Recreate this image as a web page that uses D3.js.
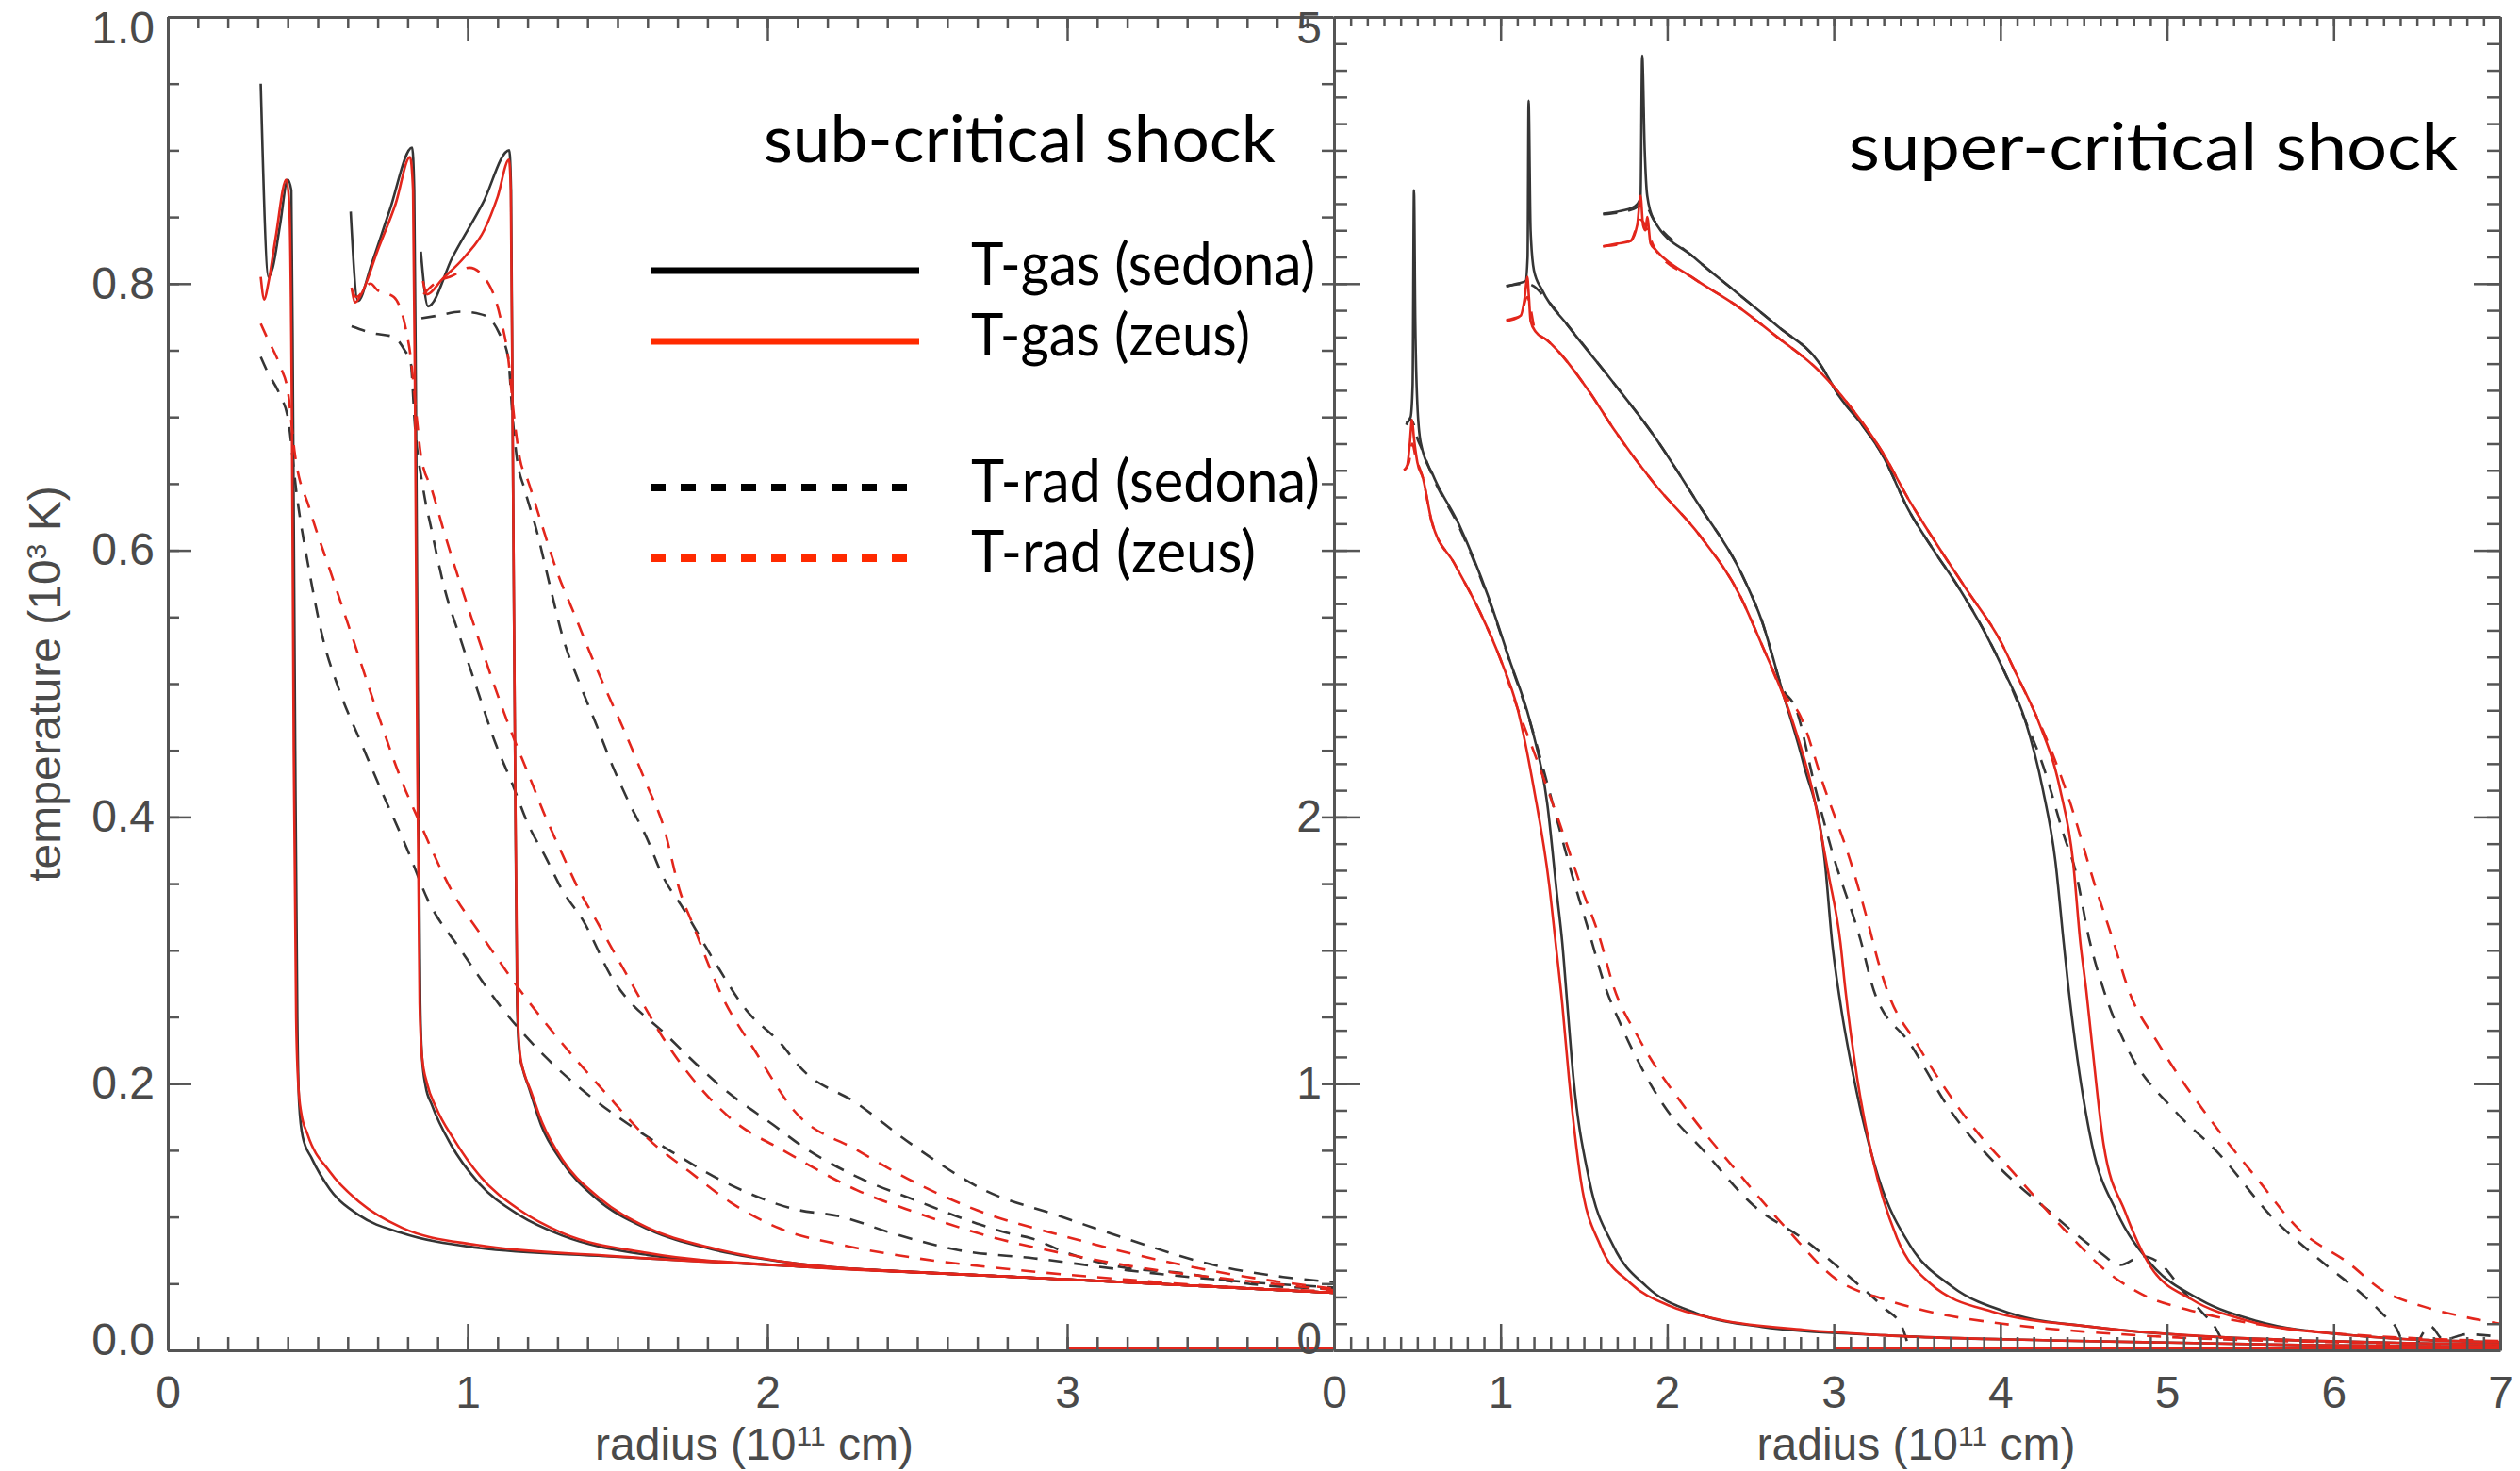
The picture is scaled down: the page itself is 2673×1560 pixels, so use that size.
<!DOCTYPE html>
<html><head><meta charset="utf-8">
<script src="https://cdn.jsdelivr.net/npm/d3@7"></script>
<style>html,body{margin:0;padding:0;background:#fff;overflow:hidden}</style>
</head><body><svg id="chart" width="2673" height="1560"></svg>
<script>
// ---------------- DATA ----------------
// tick labels
const subXTickValues = [0, 1, 2, 3];
const subXTickLabels = ["0", "1", "2", "3"];
const subYTickValues = [0, 0.2, 0.4, 0.6, 0.8, 1.0];
const subYTickLabels = ["0.0", "0.2", "0.4", "0.6", "0.8", "1.0"];
const supXTickValues = [0, 1, 2, 3, 4, 5, 6, 7];
const supXTickLabels = ["0", "1", "2", "3", "4", "5", "6", "7"];
const supYTickValues = [0, 1, 2, 3, 4, 5];
const supYTickLabels = ["0", "1", "2", "", "", "5"];

const panelTitles = ["sub-critical shock", "super-critical shock"];
const xTitle = ["radius (10", "11", " cm)"];
const yTitle = ["temperature (10", "3", " K)"];
const legendLabels = ["T-gas (sedona)", "T-gas (zeus)", "T-rad (sedona)", "T-rad (zeus)"];

// ---- sub-critical shock: [radius (1e11 cm), temperature (1e3 K)]
const subGasSedona1 = [[0.31,0.95],[0.336,0.805],[0.35,0.812],[0.375,0.845],[0.40,0.878],[0.412,0.87],[0.418,0.70],[0.425,0.45],[0.432,0.25],[0.438,0.185],[0.45,0.16],[0.48,0.144],[0.54,0.121],[0.64,0.101],[0.78,0.088],[1.03,0.077],[1.46,0.0705],[2.1,0.063],[2.64,0.057],[3.2,0.051],[3.9,0.043]];
const subGasZeus1 = [[0.31,0.805],[0.322,0.788],[0.335,0.80],[0.36,0.835],[0.395,0.878],[0.405,0.86],[0.414,0.70],[0.42,0.45],[0.428,0.25],[0.435,0.20],[0.445,0.178],[0.466,0.162],[0.54,0.134],[0.64,0.111],[0.78,0.092],[1.03,0.079],[1.46,0.071],[2.1,0.063],[2.64,0.057],[3.2,0.051],[3.9,0.043]];
const subGasSedona2 = [[0.61,0.854],[0.634,0.787],[0.68,0.815],[0.74,0.855],[0.815,0.902],[0.822,0.87],[0.828,0.70],[0.835,0.45],[0.842,0.26],[0.848,0.22],[0.86,0.198],[0.881,0.184],[0.945,0.154],[1.035,0.126],[1.175,0.101],[1.316,0.086],[1.60,0.0715],[2.1,0.063],[2.64,0.057],[3.2,0.051],[3.9,0.043]];
const subGasZeus2 = [[0.613,0.797],[0.625,0.786],[0.645,0.792],[0.70,0.825],[0.76,0.86],[0.808,0.895],[0.818,0.87],[0.825,0.70],[0.832,0.45],[0.84,0.26],[0.848,0.22],[0.865,0.20],[0.895,0.182],[0.955,0.158],[1.04,0.131],[1.175,0.105],[1.316,0.088],[1.60,0.073],[2.1,0.063],[2.64,0.057],[3.2,0.051],[3.9,0.043]];
const subGasSedona3 = [[0.844,0.824],[0.868,0.783],[0.95,0.82],[1.05,0.86],[1.139,0.90],[1.145,0.87],[1.15,0.70],[1.158,0.45],[1.165,0.26],[1.172,0.225],[1.185,0.21],[1.203,0.198],[1.245,0.169],[1.316,0.141],[1.428,0.114],[1.60,0.091],[1.81,0.076],[2.1,0.065],[2.64,0.057],[3.2,0.051],[3.9,0.043]];
const subGasZeus3 = [[0.851,0.802],[0.865,0.792],[0.914,0.803],[0.99,0.82],[1.055,0.84],[1.10,0.865],[1.138,0.893],[1.144,0.87],[1.15,0.70],[1.158,0.45],[1.166,0.26],[1.175,0.222],[1.19,0.207],[1.21,0.195],[1.25,0.17],[1.316,0.143],[1.43,0.116],[1.60,0.092],[1.81,0.077],[2.1,0.065],[2.64,0.057],[3.2,0.051],[3.9,0.043]];
const subRadSedona1 = [[0.31,0.745],[0.33,0.735],[0.375,0.716],[0.40,0.70],[0.431,0.64],[0.473,0.583],[0.515,0.536],[0.572,0.495],[0.642,0.457],[0.712,0.42],[0.80,0.375],[0.867,0.338],[0.978,0.30],[1.12,0.255],[1.26,0.22],[1.40,0.192],[1.54,0.169],[1.68,0.149],[1.877,0.124],[2.088,0.106],[2.25,0.10],[2.40,0.089],[2.64,0.075],[2.89,0.069],[3.2,0.06],[3.5,0.053],[3.9,0.047]];
const subRadZeus1 = [[0.31,0.77],[0.33,0.76],[0.375,0.738],[0.40,0.72],[0.424,0.672],[0.473,0.631],[0.544,0.583],[0.614,0.536],[0.698,0.479],[0.782,0.426],[0.838,0.397],[0.951,0.343],[1.05,0.31],[1.175,0.27],[1.316,0.23],[1.456,0.194],[1.60,0.159],[1.74,0.134],[1.877,0.111],[2.045,0.091],[2.25,0.079],[2.5,0.069],[2.8,0.061],[3.2,0.053],[3.5,0.048],[3.9,0.044]];
const subRadSedona2 = [[0.613,0.768],[0.68,0.763],[0.754,0.76],[0.79,0.75],[0.81,0.741],[0.824,0.694],[0.852,0.646],[0.88,0.615],[0.92,0.574],[0.977,0.533],[1.033,0.495],[1.09,0.457],[1.147,0.426],[1.203,0.394],[1.26,0.37],[1.316,0.345],[1.386,0.322],[1.48,0.28],[1.67,0.235],[1.877,0.192],[2.02,0.169],[2.11,0.154],[2.3,0.13],[2.5,0.112],[2.7,0.095],[2.8,0.088],[2.88,0.084],[3.0,0.073],[3.19,0.062],[3.385,0.058],[3.6,0.05],[3.9,0.046]];
const subRadZeus2 = [[0.615,0.795],[0.628,0.79],[0.676,0.80],[0.70,0.795],[0.754,0.79],[0.79,0.77],[0.81,0.745],[0.83,0.70],[0.845,0.67],[0.88,0.646],[0.92,0.615],[0.977,0.574],[1.033,0.536],[1.09,0.498],[1.147,0.463],[1.203,0.432],[1.26,0.40],[1.316,0.372],[1.372,0.345],[1.43,0.322],[1.54,0.278],[1.65,0.235],[1.877,0.174],[2.06,0.149],[2.3,0.12],[2.5,0.103],[2.7,0.088],[3.0,0.072],[3.3,0.06],[3.6,0.052],[3.9,0.045]];
const subRadSedona3 = [[0.846,0.774],[0.90,0.776],[0.978,0.779],[1.06,0.776],[1.105,0.763],[1.135,0.745],[1.15,0.70],[1.165,0.668],[1.19,0.646],[1.23,0.615],[1.274,0.574],[1.316,0.536],[1.372,0.501],[1.428,0.47],[1.484,0.438],[1.54,0.41],[1.596,0.385],[1.65,0.356],[1.72,0.331],[1.82,0.293],[1.93,0.255],[2.045,0.23],[2.11,0.212],[2.3,0.185],[2.478,0.155],[2.725,0.12],[2.97,0.101],[3.22,0.082],[3.47,0.065],[3.72,0.055],[3.9,0.051]];
const subRadZeus3 = [[0.853,0.792],[0.89,0.80],[0.95,0.806],[1.006,0.812],[1.077,0.797],[1.11,0.774],[1.135,0.745],[1.155,0.70],[1.175,0.668],[1.20,0.653],[1.245,0.621],[1.30,0.583],[1.358,0.551],[1.414,0.52],[1.47,0.491],[1.526,0.463],[1.596,0.425],[1.652,0.394],[1.71,0.343],[1.75,0.32],[1.85,0.265],[1.96,0.224],[2.088,0.18],[2.3,0.15],[2.5,0.125],[2.7,0.105],[3.0,0.085],[3.3,0.068],[3.6,0.055],[3.9,0.046]];
const subZeusFloor = [[3.0,0],[3.9,0]];

// ---- super-critical shock
const supGasSedona1 = [[0.433,3.476],[0.46,3.50],[0.472,3.62],[0.48,4.35],[0.488,3.85],[0.50,3.55],[0.52,3.405],[0.597,3.278],[0.749,3.098],[0.926,2.826],[1.052,2.592],[1.18,2.35],[1.28,2.05],[1.34,1.70],[1.37,1.53],[1.40,1.30],[1.437,1.022],[1.53,0.644],[1.677,0.391],[1.876,0.239],[2.175,0.139],[2.57,0.088],[3.31,0.056],[4.3,0.037],[5.79,0.02],[7.0,0.013]];
const supGasZeus1 = [[0.42,3.30],[0.44,3.32],[0.455,3.40],[0.468,3.49],[0.48,3.42],[0.50,3.33],[0.534,3.27],[0.585,3.112],[0.723,2.95],[0.875,2.77],[1.0,2.59],[1.10,2.41],[1.2,2.105],[1.292,1.744],[1.33,1.53],[1.37,1.30],[1.41,1.022],[1.48,0.644],[1.60,0.391],[1.777,0.253],[2.025,0.164],[2.32,0.114],[2.82,0.077],[3.31,0.056],[4.3,0.037],[5.79,0.02],[7.0,0.013]];
const supRadSedona1 = [[0.433,3.47],[0.46,3.49],[0.48,3.47],[0.50,3.42],[0.52,3.39],[0.597,3.27],[0.749,3.09],[0.926,2.82],[1.052,2.59],[1.18,2.35],[1.30,2.08],[1.43,1.78],[1.53,1.57],[1.63,1.36],[1.728,1.212],[1.976,0.921],[2.224,0.745],[2.52,0.542],[2.82,0.416],[3.115,0.264],[3.3,0.16],[3.41,0.087],[3.45,0.01]];
const supRadZeus1 = [[0.42,3.30],[0.45,3.33],[0.47,3.40],[0.49,3.35],[0.534,3.27],[0.585,3.11],[0.723,2.95],[0.875,2.77],[1.0,2.59],[1.10,2.41],[1.229,2.195],[1.355,1.975],[1.48,1.744],[1.595,1.546],[1.68,1.36],[1.826,1.174],[2.124,0.896],[2.42,0.67],[2.72,0.454],[3.02,0.264],[3.31,0.19],[3.61,0.14],[4.01,0.10],[4.5,0.07],[5.0,0.05],[6.0,0.03],[7.0,0.02]];
const supGasSedona2 = [[1.034,3.99],[1.10,4.0],[1.15,4.01],[1.162,4.1],[1.168,4.686],[1.18,4.2],[1.20,4.05],[1.25,3.975],[1.40,3.846],[1.65,3.65],[1.92,3.43],[2.19,3.17],[2.44,2.92],[2.568,2.735],[2.694,2.466],[2.82,2.195],[2.946,1.834],[2.99,1.53],[3.04,1.30],[3.12,1.022],[3.27,0.644],[3.46,0.391],[3.71,0.239],[4.06,0.139],[4.55,0.088],[5.3,0.05],[7.0,0.022]];
const supGasZeus2 = [[1.034,3.863],[1.08,3.87],[1.12,3.88],[1.145,3.95],[1.16,4.026],[1.17,3.95],[1.18,3.86],[1.21,3.82],[1.275,3.79],[1.527,3.60],[1.684,3.45],[1.936,3.24],[2.19,3.06],[2.44,2.826],[2.568,2.646],[2.744,2.375],[2.87,2.105],[2.97,1.78],[3.04,1.528],[3.07,1.35],[3.14,1.022],[3.24,0.70],[3.38,0.42],[3.58,0.25],[3.95,0.145],[4.55,0.088],[5.3,0.05],[7.0,0.022]];
const supRadSedona2 = [[1.034,3.99],[1.15,4.0],[1.20,3.99],[1.25,3.96],[1.40,3.846],[1.65,3.65],[1.92,3.43],[2.19,3.17],[2.44,2.92],[2.568,2.735],[2.694,2.48],[2.77,2.41],[2.89,2.105],[2.99,1.87],[3.16,1.54],[3.24,1.35],[3.46,1.148],[3.71,0.89],[3.96,0.707],[4.3,0.517],[4.6,0.366],[4.72,0.32],[4.85,0.353],[4.95,0.33],[5.1,0.22],[5.2,0.15],[5.3,0.075],[5.35,0.01]];
const supRadZeus2 = [[1.034,3.86],[1.12,3.88],[1.16,3.95],[1.21,3.82],[1.275,3.79],[1.527,3.60],[1.684,3.45],[1.936,3.24],[2.19,3.06],[2.44,2.826],[2.568,2.646],[2.70,2.46],[2.79,2.39],[2.946,2.105],[3.1,1.834],[3.2,1.617],[3.27,1.45],[3.32,1.35],[3.5,1.148],[3.81,0.858],[4.11,0.644],[4.4,0.442],[4.65,0.29],[4.85,0.21],[5.15,0.148],[5.54,0.098],[6.04,0.062],[6.5,0.045],[7.0,0.035]];
const supGasSedona3 = [[1.615,4.263],[1.70,4.27],[1.805,4.29],[1.84,4.32],[1.85,4.855],[1.865,4.5],[1.88,4.33],[1.919,4.24],[2.158,4.10],[2.41,3.97],[2.663,3.84],[2.916,3.70],[3.03,3.58],[3.17,3.47],[3.29,3.36],[3.45,3.15],[3.6,3.0],[3.75,2.86],[3.9,2.7],[4.02,2.55],[4.15,2.36],[4.254,2.105],[4.33,1.834],[4.38,1.528],[4.41,1.35],[4.45,1.148],[4.55,0.77],[4.70,0.517],[4.90,0.327],[5.2,0.19],[5.54,0.11],[6.04,0.06],[7.0,0.03]];
const supGasZeus3 = [[1.615,4.14],[1.70,4.15],[1.78,4.16],[1.82,4.22],[1.84,4.33],[1.855,4.22],[1.87,4.20],[1.88,4.25],[1.90,4.15],[1.93,4.127],[2.158,4.02],[2.41,3.92],[2.66,3.80],[2.916,3.67],[3.17,3.48],[3.29,3.37],[3.45,3.19],[3.6,3.04],[3.8,2.85],[4.0,2.66],[4.1,2.53],[4.227,2.36],[4.358,2.105],[4.436,1.834],[4.48,1.528],[4.515,1.351],[4.55,1.148],[4.62,0.77],[4.75,0.517],[4.90,0.315],[5.15,0.19],[5.49,0.11],[6.04,0.06],[7.0,0.03]];
const supRadSedona3 = [[1.615,4.26],[1.80,4.28],[1.86,4.30],[1.919,4.24],[2.158,4.10],[2.41,3.97],[2.663,3.84],[2.916,3.70],[3.03,3.58],[3.17,3.47],[3.29,3.36],[3.45,3.15],[3.6,3.0],[3.75,2.86],[3.9,2.7],[4.02,2.55],[4.15,2.36],[4.254,2.196],[4.384,1.925],[4.45,1.80],[4.53,1.55],[4.62,1.351],[4.75,1.148],[5.05,0.896],[5.30,0.745],[5.64,0.493],[5.94,0.327],[6.19,0.20],[6.29,0.139],[6.39,0.066],[6.42,0.01]];
const supRadSedona3Tail = [[6.5,0.02],[6.58,0.09],[6.66,0.04],[6.8,0.06],[7.0,0.05]];
const supRadZeus3 = [[1.615,4.14],[1.78,4.16],[1.84,4.24],[1.93,4.127],[2.158,4.02],[2.41,3.92],[2.66,3.80],[2.916,3.67],[3.17,3.48],[3.29,3.37],[3.45,3.19],[3.6,3.04],[3.8,2.85],[4.0,2.66],[4.1,2.53],[4.2,2.40],[4.28,2.288],[4.41,2.07],[4.567,1.745],[4.68,1.53],[4.77,1.35],[4.95,1.148],[5.30,0.832],[5.54,0.644],[5.79,0.455],[6.09,0.327],[6.29,0.226],[6.54,0.164],[6.78,0.126],[7.0,0.1]];
const supZeusFloor = [[3.0,0],[7.0,0]];

// ---------------- LAYOUT / STYLE ----------------
const BLACK = "#353535", RED = "#e3261c", AXIS = "#555", TXT = "#4a4a4a";
const LEG_RED = "#ff2a00";
const plotTop = 18, plotBottom = 1432;
const svg = d3.select("#chart");

const subX = d3.scaleLinear().domain([0, (1414 - 178) / 318]).range([178, 1414]);
const subY = d3.scaleLinear().domain([0, 1]).range([plotBottom, plotTop]);
const supX = d3.scaleLinear().domain([0, 7]).range([1415, 2652]);
const supY = d3.scaleLinear().domain([0, 5]).range([plotBottom, plotTop]);

const defs = svg.append("defs");
defs.append("clipPath").attr("id", "clipSub").append("rect")
  .attr("x", subX.range()[0]).attr("y", plotTop).attr("width", subX.range()[1] - subX.range()[0]).attr("height", plotBottom - plotTop);
defs.append("clipPath").attr("id", "clipSup").append("rect")
  .attr("x", supX.range()[0]).attr("y", plotTop).attr("width", supX.range()[1] - supX.range()[0]).attr("height", plotBottom - plotTop);

function drawSeries(g, xs, ys, data, color, dashed, width) {
  const line = d3.line().curve(d3.curveMonotoneX).x(d => xs(d[0])).y(d => ys(d[1]));
  g.append("path").datum(data).attr("d", line)
    .attr("fill", "none").attr("stroke", color).attr("stroke-width", width || 2.6)
    .attr("stroke-linejoin", "round").attr("stroke-linecap", "butt")
    .attr("stroke-dasharray", dashed ? "15,12" : null);
}

// sub-critical panel
const gSub = svg.append("g").attr("clip-path", "url(#clipSub)");
[subRadSedona1, subRadSedona2, subRadSedona3].forEach(s => drawSeries(gSub, subX, subY, s, BLACK, true));
[subGasSedona1, subGasSedona2, subGasSedona3].forEach(s => drawSeries(gSub, subX, subY, s, BLACK, false));
[subRadZeus1, subRadZeus2, subRadZeus3].forEach(s => drawSeries(gSub, subX, subY, s, RED, true));
[subGasZeus1, subGasZeus2, subGasZeus3].forEach(s => drawSeries(gSub, subX, subY, s, RED, false));
drawSeries(gSub, subX, subY, subZeusFloor, RED, false, 7);

// super-critical panel
const gSup = svg.append("g").attr("clip-path", "url(#clipSup)");
[supRadSedona1, supRadSedona2, supRadSedona3, supRadSedona3Tail].forEach(s => drawSeries(gSup, supX, supY, s, BLACK, true));
[supGasSedona1, supGasSedona2, supGasSedona3].forEach(s => drawSeries(gSup, supX, supY, s, BLACK, false));
[supRadZeus1, supRadZeus2, supRadZeus3].forEach(s => drawSeries(gSup, supX, supY, s, RED, true));
[supGasZeus1, supGasZeus2, supGasZeus3].forEach(s => drawSeries(gSup, supX, supY, s, RED, false));
drawSeries(gSup, supX, supY, supZeusFloor, RED, false, 7);

// ---------------- AXES ----------------
function styleAxis(g, showDomain) {
  g.select(".domain").attr("stroke", AXIS).attr("stroke-width", 3).attr("display", showDomain ? null : "none");
  g.selectAll(".tick line").attr("stroke", AXIS).attr("stroke-width", 2.5);
  g.selectAll(".tick text").attr("fill", TXT).style("font-family", "'Liberation Sans', Arial, sans-serif").style("font-size", "48px");
}
function addAxis(axisGen, transform, showDomain) {
  const g = svg.append("g").attr("transform", transform).call(axisGen);
  styleAxis(g, showDomain);
  return g;
}
const noLabel = () => "";
const rng = (a, b, s) => d3.range(a, b + s / 2, s);

// sub panel
const subMinorX = rng(0, 3.8, 0.1), subMinorY = rng(0, 1, 0.05);
addAxis(d3.axisBottom(subX).tickValues(subMinorX).tickSize(-14).tickSizeOuter(0).tickFormat(noLabel), `translate(0,${plotBottom})`, true);
addAxis(d3.axisBottom(subX).tickValues(subXTickValues).tickSize(-28).tickSizeOuter(0).tickPadding(27)
  .tickFormat((d, i) => subXTickLabels[i]), `translate(0,${plotBottom})`, false);
addAxis(d3.axisTop(subX).tickValues(subMinorX).tickSize(-12).tickSizeOuter(0).tickFormat(noLabel), `translate(0,${plotTop})`, true);
addAxis(d3.axisTop(subX).tickValues(subXTickValues).tickSize(-25).tickSizeOuter(0).tickFormat(noLabel), `translate(0,${plotTop})`, false);
addAxis(d3.axisLeft(subY).tickValues(subMinorY).tickSize(-12).tickSizeOuter(0).tickFormat(noLabel), `translate(${subX(0)},0)`, true);
const subLeft = addAxis(d3.axisLeft(subY).tickValues(subYTickValues).tickSize(-25).tickSizeOuter(0).tickPadding(14)
  .tickFormat((d, i) => subYTickLabels[i]), `translate(${subX(0)},0)`, false);
addAxis(d3.axisRight(subY).tickValues(subMinorY).tickSize(-12).tickSizeOuter(0).tickFormat(noLabel), `translate(${subX.range()[1]},0)`, false);
subLeft.selectAll(".tick text").filter(d => d === 1).attr("y", 12);
subLeft.selectAll(".tick text").filter(d => d === 0).attr("y", -11);

// sup panel
const supMinorX = rng(0, 7, 0.1), supMinorY = rng(0, 5, 0.1);
addAxis(d3.axisBottom(supX).tickValues(supMinorX).tickSize(-14).tickSizeOuter(0).tickFormat(noLabel), `translate(0,${plotBottom})`, true);
addAxis(d3.axisBottom(supX).tickValues(supXTickValues).tickSize(-28).tickSizeOuter(0).tickPadding(27)
  .tickFormat((d, i) => supXTickLabels[i]), `translate(0,${plotBottom})`, false);
addAxis(d3.axisTop(supX).tickValues(supMinorX).tickSize(-10).tickSizeOuter(0).tickFormat(noLabel), `translate(0,${plotTop})`, true);
addAxis(d3.axisTop(supX).tickValues(supXTickValues).tickSize(-25).tickSizeOuter(0).tickFormat(noLabel), `translate(0,${plotTop})`, false);
addAxis(d3.axisLeft(supY).tickValues(supMinorY).tickSize(-14).tickSizeOuter(0).tickFormat(noLabel), `translate(${supX(0)},0)`, true);
const supLeft = addAxis(d3.axisLeft(supY).tickValues(supYTickValues).tickSize(-28).tickSizeOuter(0).tickPadding(13)
  .tickFormat((d, i) => supYTickLabels[i]), `translate(${supX(0)},0)`, false);
addAxis(d3.axisRight(supY).tickValues(supMinorY).tickSize(-14).tickSizeOuter(0).tickFormat(noLabel), `translate(${supX.range()[1]},0)`, true);
addAxis(d3.axisRight(supY).tickValues(supYTickValues).tickSize(-28).tickSizeOuter(0).tickFormat(noLabel), `translate(${supX.range()[1]},0)`, false);
supLeft.selectAll(".tick text").filter(d => d === 5).attr("y", 12);
supLeft.selectAll(".tick text").filter(d => d === 0).attr("y", -12);

// axis titles
function titleText(parts, x, y, rotate) {
  const t = svg.append("text").attr("x", x).attr("y", y).attr("text-anchor", "middle")
    .attr("fill", TXT).style("font-family", "'Liberation Sans', Arial, sans-serif").style("font-size", "48px");
  if (rotate) t.attr("transform", `rotate(-90,${x},${y})`);
  t.append("tspan").text(parts[0]);
  t.append("tspan").text(parts[1]).attr("dy", -15).style("font-size", "30px");
  t.append("tspan").text(parts[2]).attr("dy", 15);
}
titleText(xTitle, (subX.range()[0] + subX.range()[1]) / 2 + 4, 1548, false);
titleText(xTitle, (supX.range()[0] + supX.range()[1]) / 2 - 1, 1548, false);
titleText(yTitle, 64, 725, true);

// panel titles
const titleFont = "Lato, 'Open Sans', sans-serif";
svg.append("text").attr("x", 810).attr("y", 172).text(panelTitles[0])
  .attr("fill", "#000").style("font-family", titleFont).style("font-size", "70px")
  .attr("textLength", 543).attr("lengthAdjust", "spacingAndGlyphs");
svg.append("text").attr("x", 1961).attr("y", 180).text(panelTitles[1])
  .attr("fill", "#000").style("font-family", titleFont).style("font-size", "70px")
  .attr("textLength", 646).attr("lengthAdjust", "spacingAndGlyphs");

// legend
const legendStyles = [
  {color: "#000", dash: null}, {color: LEG_RED, dash: null},
  {color: "#000", dash: "16,16"}, {color: LEG_RED, dash: "16,16"}
];
const legendWidths = [365, 296, 370, 302];
const legendBase = [302, 377, 532, 607];
legendLabels.forEach((lab, i) => {
  const yb = legendBase[i];
  svg.append("line").attr("x1", 690).attr("x2", 975).attr("y1", yb - 15).attr("y2", yb - 15)
    .attr("stroke", legendStyles[i].color).attr("stroke-width", i < 2 ? 7 : 8)
    .attr("stroke-dasharray", legendStyles[i].dash);
  svg.append("text").attr("x", 1030).attr("y", yb).text(lab)
    .attr("fill", "#000").style("font-family", titleFont).style("font-size", "62px")
    .attr("textLength", legendWidths[i]).attr("lengthAdjust", "spacingAndGlyphs");
});
</script>
</body></html>
